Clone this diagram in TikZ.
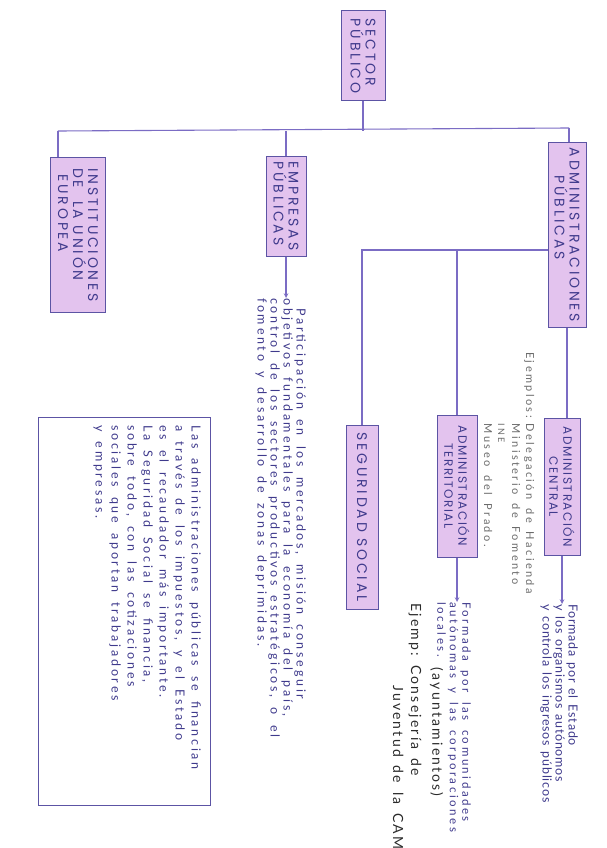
\documentclass[tikz,border=0pt]{standalone}
\usepackage{fontspec}
\setmainfont{Lato}
\newfontfamily\capsfont{Poppins}[LetterSpace=20]
\newfontfamily\capstight{Poppins}[LetterSpace=13]
\newfontfamily\handfont{Lato}[LetterSpace=22, WordSpace=1.7]
\newfontfamily\handtight{Lato}[LetterSpace=6, WordSpace=1.5]
\newfontfamily\penfont{Lato}[LetterSpace=16, WordSpace=1.5]
\definecolor{ink}{HTML}{3F3A8C}
\definecolor{boxline}{HTML}{5C54A4}
\definecolor{wire}{HTML}{7B6CC4}
\definecolor{hilite}{HTML}{E3C3EE}
\definecolor{pencil}{HTML}{6B6B6B}
\definecolor{pen}{HTML}{2B2B2B}
\tikzset{
  concept/.style={draw=boxline, line width=1pt, fill=hilite, rotate=-90, text=ink,
    inner sep=1pt, font=\capsfont\fontsize{14}{15}\selectfont},
  link/.style={draw=wire, line width=1.1pt},
  desc/.style={rotate=-90, anchor=north west, align=left, inner sep=0pt, text=ink,
    font=\handfont\fontsize{12.5}{13}\selectfont},
}
\begin{document}
\begin{tikzpicture}[x=1pt,y=-1pt]
\useasboundingbox (0,0) rectangle (606,848);

% Boxes
\node[concept, minimum width=90pt, minimum height=44pt, align=left] (sector) at (363,56) {SECTOR\\PÚBLICO};
\node[concept, minimum width=155pt, minimum height=55pt, align=left] (inst) at (78,235) {INSTITUCIONES\\DE \ LA UNIÓN\\\ EUROPEA};
\node[concept, minimum width=100pt, minimum height=40pt, align=left] (empresas) at (286,206) {EMPRESAS\\PÚBLICAS};
\node[concept, minimum width=185pt, minimum height=38pt, align=left] (admin) at (567,235) {ADMINISTRACIONES\\\hspace{2em}PÚBLICAS};
\node[concept, minimum width=137pt, minimum height=36pt, align=center, font=\capstight\fontsize{12}{14}\selectfont] (central) at (562,487) {ADMINISTRACIÓN\\CENTRAL};
\node[concept, minimum width=142pt, minimum height=40pt, align=center, font=\capstight\fontsize{12}{14}\selectfont] (territorial) at (457,486) {ADMINISTRACIÓN\\TERRITORIAL};
\node[concept, minimum width=184pt, minimum height=32pt] (seguridad) at (362,517) {SEGURIDAD SOCIAL};

% Texts
\node[desc] (emptext) at (306,298) {\hspace{0.8em}Participación en los mercados, misión conseguir\\objetivos fundamentales para la economía del país,\\control de los sectores productivos estratégicos, o el\\fomento y desarrollo de zonas deprimidas.};
\node[desc, font=\handtight\fontsize{12.5}{13}\selectfont] (centraltext) at (578,604) {Formada por el Estado\\y los organismos autónomos\\y controla los ingresos públicos};
\node[desc, text=pencil, font=\handfont\fontsize{11}{14}\selectfont] (ejemplos) at (536,352) {\begin{tabular}{@{}l@{\hspace{6pt}}l@{}}Ejemplos: & Delegación de Hacienda\\ & Ministerio de Fomento\\ & {\fontsize{9}{10}\selectfont INE}\\ & Museo del Prado.\end{tabular}};
\node[desc, font=\handfont\fontsize{11.5}{12.5}\selectfont] (territext) at (471,602) {Formada por las comunidades\\autónomas y las corporaciones\\locales. {\color{pen}\penfont\raisebox{-5pt}{\fontsize{14}{14}\selectfont(ayuntamientos)}}};
\node[desc, text=pen, font=\penfont\fontsize{14}{18}\selectfont] (ejterri) at (424,603) {\begin{tabular}{@{}l@{\hspace{9pt}}l@{}}Ejemp: & Consejería de\\ & \hspace{20pt}Juventud de la CAM\end{tabular}};

% Note box
\node[draw=boxline, line width=1pt, rotate=-90, minimum width=388pt, minimum height=172pt] (notabox) at (124,611) {};
\node[desc, font=\handfont\fontsize{12.5}{16}\selectfont] (notatext) at (201,425) {Las administraciones públicas se financian\\a través de los impuestos, y el Estado\\es el recaudador más importante.\\La Seguridad Social se financia,\\sobre todo, con las cotizaciones\\sociales que aportan trabajadores\\y empresas.};

% Connectors
\coordinate (busL) at (58,131);
\coordinate (busR) at (569,128);
\coordinate (branch) at (0,250);
\draw[link] (sector.east) -- (sector.east |- busL);
\draw[link] (busL) -- (busR);
\draw[link] (busL) -- (busL |- inst.west);
\draw[link] (empresas.west |- busL) -- (empresas.west);
\draw[link] (busR) -- (busR |- admin.west);
\draw[link] (admin.south |- branch) -- (seguridad.west |- branch) -- (seguridad.west);
\draw[link] (territorial.west |- branch) -- (territorial.west);
\draw[link] (admin.east) -- (admin.east |- central.west);

% Arrows
\draw[link, ->, >=stealth] (empresas.east) -- (empresas.east |- emptext.west);
\draw[link, ->, >=stealth] (central.east) -- (central.east |- centraltext.west);
\draw[link, ->, >=stealth] (territorial.east) -- (territorial.east |- territext.west);

\end{tikzpicture}
\end{document}
